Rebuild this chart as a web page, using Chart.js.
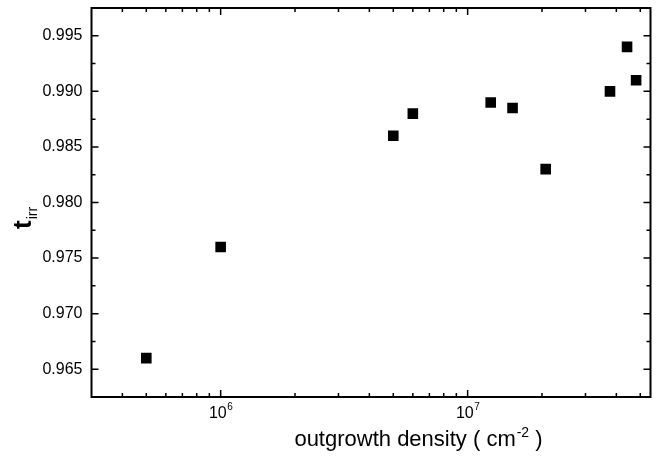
<!DOCTYPE html>
<html><head><meta charset="utf-8">
<script src="https://cdn.jsdelivr.net/npm/chart.js@4.4.0/dist/chart.umd.min.js"></script>
<style>html,body{margin:0;padding:0;background:#fff;}canvas{display:block;}</style>
</head><body>
<canvas id="c" width="658" height="459"></canvas>
<script>
// ---- data ----
const densities = [5e5, 1e6, 5e6, 6e6, 1.24e7, 1.52e7, 2.07e7, 3.77e7, 4.42e7, 4.81e7];
const tirr      = [0.966, 0.976, 0.986, 0.988, 0.989, 0.9885, 0.983, 0.990, 0.994, 0.991];
const xLabelBase = '10';
const xAxisTitle = ['outgrowth density ( cm', '-2', ' )'];
const yAxisTitle = ['t', 'irr'];
const xRange = [3e5, 5.5e7];
const yRange = [0.9625, 0.9975];

const FONT = "'Liberation Sans', Arial, Helvetica, sans-serif";

const decor = {
  id: 'decor',
  afterDraw(chart) {
    const {ctx, chartArea: a, scales: {x, y}} = chart;
    ctx.save();
    ctx.strokeStyle = '#000';
    ctx.lineWidth = 1.5;
    ctx.beginPath();
    x.ticks.forEach(t => {
      const v = t.value;
      const e = Math.floor(Math.log10(v) + 1e-9);
      const m = v / Math.pow(10, e);
      if (Math.abs(m - Math.round(m)) > 1e-6) return;
      const px = x.getPixelForValue(v);
      if (px < a.left + 1 || px > a.right - 1) return;
      const L = Math.round(m) === 1 ? 7 : 4;
      ctx.moveTo(px, a.bottom); ctx.lineTo(px, a.bottom - L);
      ctx.moveTo(px, a.top); ctx.lineTo(px, a.top + L);
    });
    y.ticks.forEach(t => {
      const py = y.getPixelForValue(t.value);
      if (py < a.top + 1 || py > a.bottom - 1) return;
      const major = Math.abs(t.value * 200 - Math.round(t.value * 200)) < 1e-6;
      const L = major ? 7 : 4;
      ctx.moveTo(a.left, py); ctx.lineTo(a.left + L, py);
      ctx.moveTo(a.right, py); ctx.lineTo(a.right - L, py);
    });
    ctx.stroke();
    ctx.lineWidth = 2;
    ctx.strokeRect(a.left, a.top, a.right - a.left, a.bottom - a.top);

    // x tick labels (powers of ten with superscript exponent)
    ctx.fillStyle = '#000';
    ctx.textBaseline = 'alphabetic';
    x.ticks.forEach(t => {
      const lg = Math.log10(t.value);
      if (Math.abs(lg - Math.round(lg)) > 1e-9) return;
      const px = x.getPixelForValue(t.value);
      const exp = String(Math.round(lg));
      ctx.font = '16px ' + FONT;
      const wb = ctx.measureText(xLabelBase).width;
      ctx.font = '10px ' + FONT;
      const we = ctx.measureText(exp).width;
      const x0 = px - (wb + we) / 2;
      ctx.font = '16px ' + FONT;
      ctx.textAlign = 'left';
      ctx.fillText(xLabelBase, x0, a.bottom + 21);
      ctx.font = '10px ' + FONT;
      ctx.fillText(exp, x0 + wb + 0.5, a.bottom + 13);
    });

    // x axis title
    ctx.font = '22px ' + FONT;
    const w1 = ctx.measureText(xAxisTitle[0]).width;
    const w3 = ctx.measureText(xAxisTitle[2]).width;
    ctx.font = '14px ' + FONT;
    const w2 = ctx.measureText(xAxisTitle[1]).width;
    const cx = (a.left + a.right) / 2 + 47;
    let tx = cx - (w1 + w2 + w3) / 2;
    const base = a.bottom + 49;
    ctx.textAlign = 'left';
    ctx.font = '22px ' + FONT;
    ctx.fillText(xAxisTitle[0], tx, base);
    ctx.font = '14px ' + FONT;
    ctx.fillText(xAxisTitle[1], tx + w1 + 1, base - 9);
    ctx.font = '22px ' + FONT;
    ctx.fillText(xAxisTitle[2], tx + w1 + w2 + 1, base);

    // y axis title (rotated, bold t with subscript irr)
    ctx.save();
    ctx.translate(31, 229);
    ctx.rotate(-Math.PI / 2);
    ctx.font = 'bold 26px ' + FONT;
    ctx.fillText(yAxisTitle[0], 0, 0);
    const wt = ctx.measureText(yAxisTitle[0]).width;
    ctx.font = '14px ' + FONT;
    ctx.fillText(yAxisTitle[1], wt + 1, 6);
    ctx.restore();
    ctx.restore();
  }
};

new Chart(document.getElementById('c'), {
  type: 'scatter',
  data: {
    datasets: [{
      data: densities.map((d, i) => ({x: d, y: tirr[i]})),
      pointStyle: 'rect',
      pointRadius: 7.5,
      pointHoverRadius: 7.5,
      backgroundColor: '#000',
      borderWidth: 0
    }]
  },
  options: {
    responsive: false,
    animation: false,
    devicePixelRatio: 1,
    events: [],
    layout: {padding: {left: 0, right: 6, top: 8, bottom: 0}},
    plugins: {legend: {display: false}, tooltip: {enabled: false}, title: {display: false}},
    scales: {
      x: {
        type: 'logarithmic',
        min: xRange[0], max: xRange[1],
        grid: {display: false, drawTicks: false},
        border: {display: false},
        ticks: {display: false},
        afterFit(s) { s.height = 62; s.paddingLeft = 0; s.paddingRight = 0; }
      },
      y: {
        type: 'linear',
        min: yRange[0], max: yRange[1],
        grid: {display: false, drawTicks: false},
        border: {display: false},
        ticks: {
          stepSize: 0.0025,
          color: '#000',
          padding: 9,
          font: {family: FONT, size: 16},
          callback: v => (Math.abs(v * 200 - Math.round(v * 200)) < 1e-6 ? v.toFixed(3) : '')
        },
        afterFit(s) { s.width = 91.5; s.paddingTop = 0; s.paddingBottom = 0; }
      }
    }
  },
  plugins: [decor]
});
</script>
</body></html>
